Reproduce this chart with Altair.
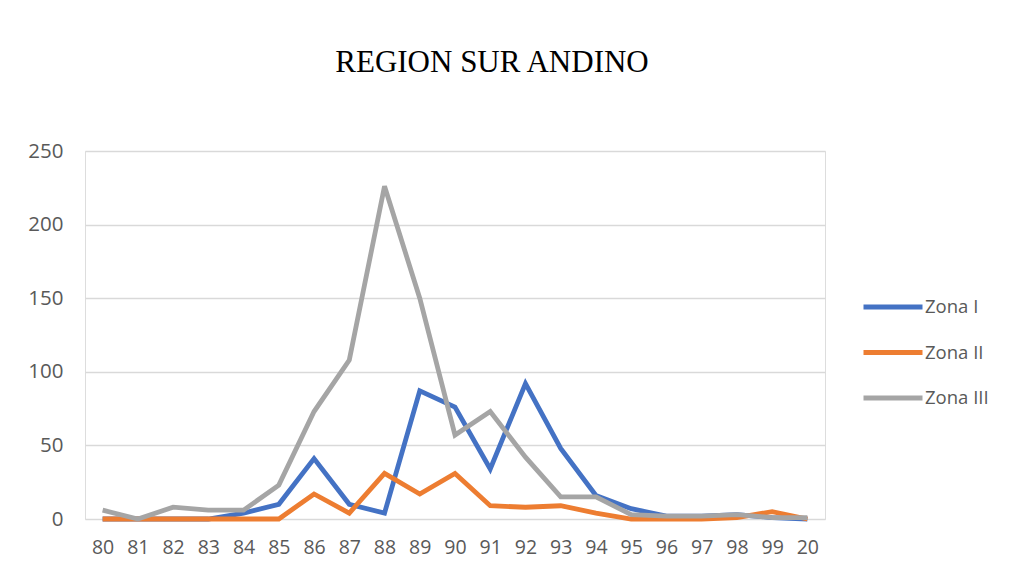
import altair as alt
import pandas as pd

years = ["80", "81", "82", "83", "84", "85", "86", "87", "88", "89", "90",
         "91", "92", "93", "94", "95", "96", "97", "98", "99", "20"]
zona_i = [0, 0, 0, 0, 4, 10, 41, 10, 4, 87, 76, 34, 92, 48, 16, 7, 2, 2, 3, 1, 0]
zona_ii = [0, 0, 0, 0, 0, 0, 17, 4, 31, 17, 31, 9, 8, 9, 4, 0, 0, 0, 1, 5, 0]
zona_iii = [6, 0, 8, 6, 6, 23, 73, 108, 226, 150, 57, 73, 42, 15, 15, 3, 2, 2, 3, 1, 1]
series = ["Zona I", "Zona II", "Zona III"]
colors = ["#4472C4", "#ED7D31", "#A5A5A5"]

rows = []
for name, vals in zip(series, [zona_i, zona_ii, zona_iii]):
    for i, (y, v) in enumerate(zip(years, vals)):
        rows.append({"year": y, "value": v, "serie": name, "order": i})
df = pd.DataFrame(rows)

label_font = "Open Sans"
label_color = "#595959"

chart = alt.Chart(df).mark_line(strokeWidth=4.8, strokeJoin="miter").encode(
    x=alt.X("year:O", sort=years,
            scale=alt.Scale(type="point", padding=0.5),
            axis=alt.Axis(title=None, labelAngle=0, ticks=False, domain=False,
                          labelFont=label_font, labelFontSize=19.5,
                          labelColor=label_color, labelPadding=19)),
    y=alt.Y("value:Q", scale=alt.Scale(domain=[0, 250], nice=False),
            axis=alt.Axis(title=None, values=[0, 50, 100, 150, 200, 250],
                          ticks=False, domain=False, gridColor="#D9D9D9",
                          gridWidth=1.5,
                          labelFont=label_font, labelFontSize=20.5,
                          labelColor=label_color, labelPadding=22)),
    color=alt.Color("serie:N", sort=series,
                    scale=alt.Scale(domain=series, range=colors),
                    legend=alt.Legend(title=None, orient="none",
                                      legendX=776, legendY=124,
                                      symbolType="stroke", symbolSize=3481,
                                      symbolStrokeWidth=5, labelFont=label_font,
                                      labelFontSize=18.5, labelColor=label_color,
                                      labelOffset=0, rowPadding=3.5, padding=0)),
    order="order:Q",
).properties(
    width=740,
    height=368,
    title=alt.TitleParams("REGION SUR ANDINO", font="Liberation Serif",
                          fontSize=31, fontWeight="normal", color="#000000",
                          anchor="middle", offset=62, dx=37),
    autosize=alt.AutoSizeParams(type="none"),
    padding={"left": 77, "top": 143, "right": 175, "bottom": 40},
).configure_view(stroke=None).configure(background="#FFFFFF")

chart.save("out.html", embed_options={"renderer": "svg", "actions": False})
